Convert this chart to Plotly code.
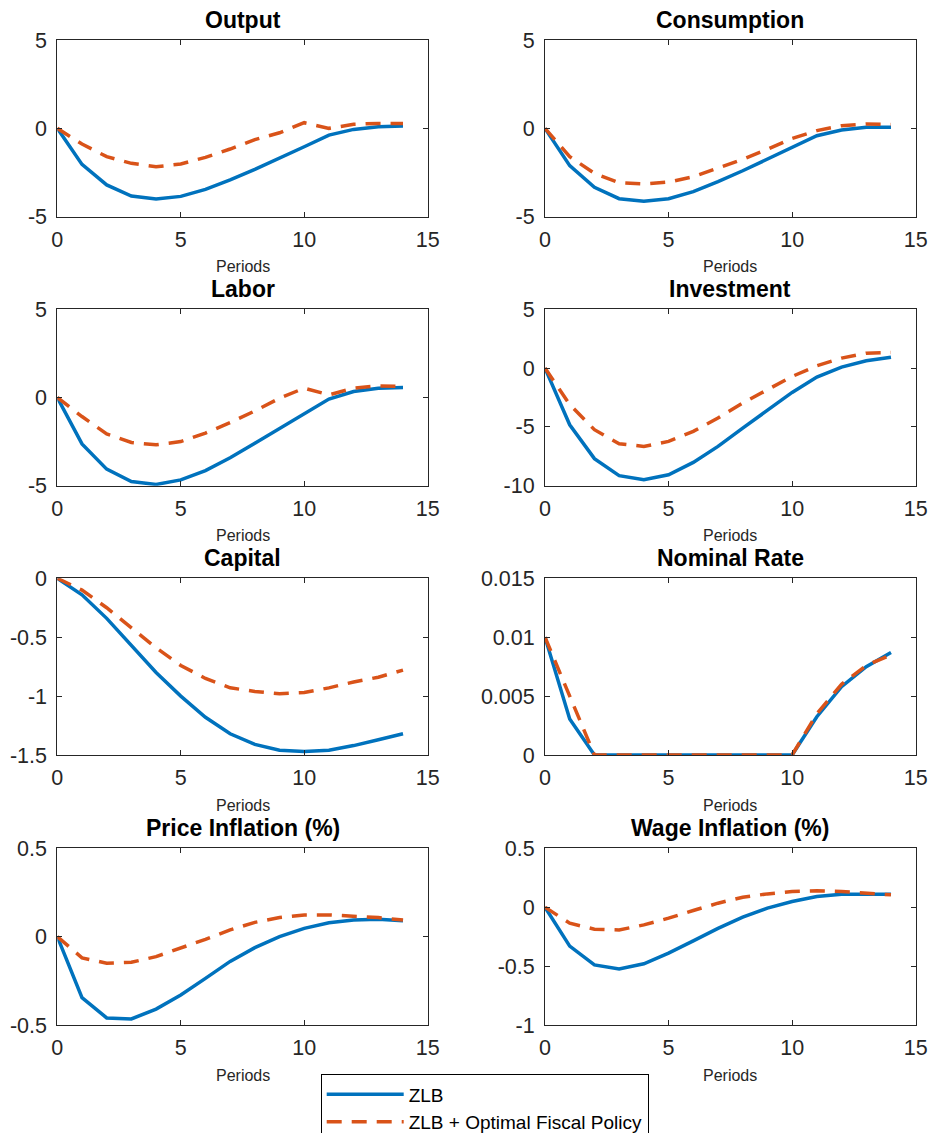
import plotly.graph_objects as go

# ---------------- data ----------------
periods = [0, 1, 2, 3, 4, 5, 6, 7, 8, 9, 10, 11, 12, 13, 14]

output_zlb = [0, -2.04, -3.2, -3.83, -4.0, -3.85, -3.45, -2.92, -2.32, -1.7, -1.04, -0.38, -0.06, 0.09, 0.13]
output_opt = [0, -0.89, -1.6, -1.98, -2.17, -2.02, -1.64, -1.17, -0.64, -0.25, 0.32, 0.0, 0.23, 0.28, 0.28]

cons_zlb = [0, -2.11, -3.34, -3.98, -4.13, -3.98, -3.58, -3.02, -2.4, -1.75, -1.08, -0.42, -0.09, 0.06, 0.06]
cons_opt = [0, -1.6, -2.55, -3.08, -3.15, -3.04, -2.74, -2.26, -1.75, -1.19, -0.57, -0.13, 0.15, 0.25, 0.22]

labor_zlb = [0, -2.63, -4.06, -4.76, -4.93, -4.67, -4.14, -3.42, -2.59, -1.74, -0.89, -0.09, 0.34, 0.53, 0.57]
labor_opt = [0, -1.08, -2.06, -2.55, -2.68, -2.5, -2.02, -1.42, -0.76, -0.04, 0.53, 0.15, 0.53, 0.66, 0.62]

inv_zlb = [0, -4.82, -7.7, -9.15, -9.49, -9.07, -8.02, -6.66, -5.1, -3.54, -2.07, -0.76, 0.08, 0.62, 0.93]
inv_opt = [0, -3.1, -5.24, -6.43, -6.66, -6.23, -5.38, -4.25, -2.97, -1.84, -0.71, 0.2, 0.85, 1.27, 1.33]

cap_zlb = [0, -0.14, -0.34, -0.57, -0.80, -1.0, -1.18, -1.32, -1.41, -1.46, -1.47, -1.46, -1.42, -1.37, -1.32]
cap_opt = [0, -0.10, -0.25, -0.42, -0.59, -0.74, -0.85, -0.93, -0.96, -0.98, -0.97, -0.93, -0.88, -0.84, -0.78]

rate_zlb = [0.01, 0.00305, 0, 0, 0, 0, 0, 0, 0, 0, 0, 0.00325, 0.0058, 0.0075, 0.0087]
rate_opt = [0.01, 0.005, 0, 0, 0, 0, 0, 0, 0, 0, 0, 0.0035, 0.006, 0.0076, 0.0085]

pinf_zlb = [0, -0.345, -0.46, -0.466, -0.41, -0.33, -0.236, -0.14, -0.062, 0.0, 0.047, 0.079, 0.094, 0.098, 0.09]
pinf_opt = [0, -0.12, -0.15, -0.145, -0.113, -0.066, -0.015, 0.038, 0.081, 0.108, 0.123, 0.123, 0.117, 0.108, 0.094]

winf_zlb = [0, -0.33, -0.49, -0.524, -0.48, -0.39, -0.286, -0.18, -0.085, -0.008, 0.048, 0.09, 0.11, 0.113, 0.11]
winf_opt = [0, -0.136, -0.187, -0.193, -0.15, -0.093, -0.028, 0.034, 0.085, 0.113, 0.133, 0.139, 0.133, 0.122, 0.105]

titles = ["Output", "Consumption", "Labor", "Investment", "Capital", "Nominal Rate",
          "Price Inflation (%)", "Wage Inflation (%)"]
series_zlb = [output_zlb, cons_zlb, labor_zlb, inv_zlb, cap_zlb, rate_zlb, pinf_zlb, winf_zlb]
series_opt = [output_opt, cons_opt, labor_opt, inv_opt, cap_opt, rate_opt, pinf_opt, winf_opt]

x_ticks = [0, 5, 10, 15]
x_ticktext = ["0", "5", "10", "15"]
y_ranges = [[-5, 5], [-5, 5], [-5, 5], [-10, 5], [-1.5, 0], [0, 0.015], [-0.5, 0.5], [-1, 0.5]]
y_tickvals = [[-5, 0, 5], [-5, 0, 5], [-5, 0, 5], [-10, -5, 0, 5], [-1.5, -1, -0.5, 0],
              [0, 0.005, 0.01, 0.015], [-0.5, 0, 0.5], [-1, -0.5, 0, 0.5]]
y_ticktext = [["-5", "0", "5"], ["-5", "0", "5"], ["-5", "0", "5"], ["-10", "-5", "0", "5"],
              ["-1.5", "-1", "-0.5", "0"], ["0", "0.005", "0.01", "0.015"],
              ["-0.5", "0", "0.5"], ["-1", "-0.5", "0", "0.5"]]
legend_names = ["ZLB", "ZLB + Optimal Fiscal Policy"]

# ---------------- layout constants ----------------
W, H = 930, 1133
col_px = [(57.3, 427.7), (545.0, 915.7)]
row_px = [(40.0, 216.7), (309.3, 485.7), (578.3, 755.0), (848.3, 1025.0)]
FONT = "Liberation Sans, Arial, Helvetica, sans-serif"
AX = "#262626"
BLUE = "#0072BD"
ORANGE = "#D95319"

fig = go.Figure()
annotations = []
layout_axes = {}

for i in range(8):
    r, c = divmod(i, 2)
    x0, x1 = col_px[c]
    y0, y1 = row_px[r]
    xd = [x0 / W, x1 / W]
    yd = [1 - y1 / H, 1 - y0 / H]
    n = i + 1
    xa = "x" if n == 1 else f"x{n}"
    ya = "y" if n == 1 else f"y{n}"
    xkey = "xaxis" if n == 1 else f"xaxis{n}"
    ykey = "yaxis" if n == 1 else f"yaxis{n}"
    common = dict(showline=True, linecolor=AX, linewidth=1, mirror="ticks", ticks="inside",
                  ticklen=5, tickwidth=1, tickcolor=AX, showgrid=False, zeroline=False,
                  tickfont=dict(family=FONT, size=21.5, color=AX))
    layout_axes[xkey] = dict(domain=xd, range=[0, 15], tickvals=x_ticks, ticktext=x_ticktext,
                             anchor=ya, ticklabelstandoff=3, **common)
    layout_axes[ykey] = dict(domain=yd, range=y_ranges[i], tickvals=y_tickvals[i],
                             ticktext=y_ticktext[i], anchor=xa, ticklabelstandoff=5, **common)

    fig.add_trace(go.Scatter(x=periods, y=series_zlb[i], mode="lines", xaxis=xa, yaxis=ya,
                             line=dict(color=BLUE, width=3.5), name=legend_names[0],
                             legendgroup="zlb", showlegend=(i == 0)))
    fig.add_trace(go.Scatter(x=periods, y=series_opt[i], mode="lines", xaxis=xa, yaxis=ya,
                             line=dict(color=ORANGE, width=3.5, dash="15px,10px"),
                             name=legend_names[1], legendgroup="opt", showlegend=(i == 0)))

    cx = (x0 + x1) / 2 / W
    annotations.append(dict(text="<b>" + titles[i] + "</b>", x=cx, y=1 - (y0 - 5) / H,
                            xref="paper", yref="paper", xanchor="center", yanchor="bottom",
                            showarrow=False, font=dict(family=FONT, size=23, color="black")))
    annotations.append(dict(text="Periods", x=cx, y=1 - (y1 + 50) / H, xref="paper", yref="paper",
                            xanchor="center", yanchor="middle", showarrow=False,
                            font=dict(family=FONT, size=16, color=AX)))

fig.update_layout(
    width=W, height=H,
    margin=dict(l=0, r=0, t=0, b=0, autoexpand=False),
    paper_bgcolor="white", plot_bgcolor="white",
    annotations=annotations,
    showlegend=True,
    legend=dict(x=320.7 / W, y=1 - 1074.3 / H, xanchor="left", yanchor="top",
                bordercolor="black", borderwidth=1, bgcolor="white",
                font=dict(family=FONT, size=19, color="black"),
                tracegroupgap=0, itemwidth=77),
    **layout_axes,
)

fig.write_html("out.html")
